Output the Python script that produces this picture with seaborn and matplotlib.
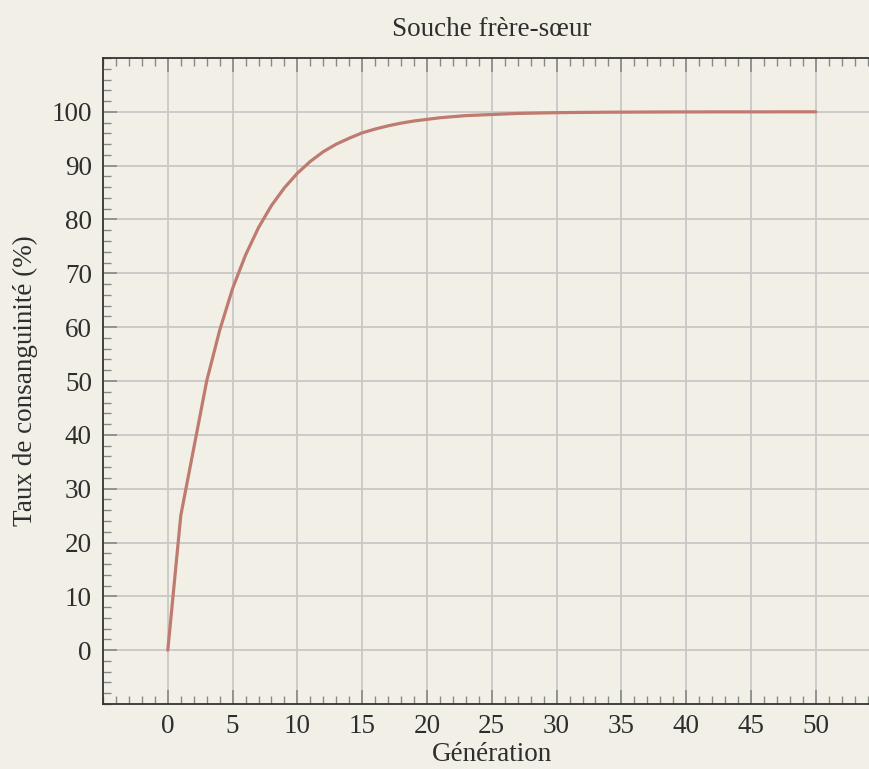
import numpy as np
import pandas as pd
import matplotlib; matplotlib.use("Agg")
import matplotlib.pyplot as plt
import seaborn as sns
from matplotlib.ticker import MultipleLocator

sns.set_theme(style="white")
plt.rcParams["font.family"] = ["Liberation Serif", "DejaVu Serif"]

# Taux de consanguinité (%) par génération, souche frère-sœur
generation = list(range(0, 51))
taux = [0.0, 25.0, 37.5, 50.0, 59.4, 67.2, 73.4, 78.5, 82.6, 85.9,
        88.6, 90.8, 92.6, 94.0, 95.1, 96.1, 96.8, 97.4, 97.9, 98.3,
        98.6, 98.9, 99.1, 99.3, 99.4, 99.5, 99.6, 99.7, 99.75, 99.8,
        99.84, 99.87, 99.89, 99.91, 99.93, 99.94, 99.95, 99.96, 99.97, 99.98,
        99.98, 99.98, 99.99, 99.99, 99.99, 99.99, 99.99, 100.0, 100.0, 100.0,
        100.0]

BG = "#F2F0E6"
LINE = "#BF7B6F"
TXT = "#2E2E2E"
FS = 19.5

df = pd.DataFrame({"Génération": generation, "Taux": taux})

fig = plt.figure(figsize=(8.7, 7.69), dpi=100)
fig.patch.set_facecolor(BG)
ax = fig.add_axes([0.1184, 0.0845, 0.8938, 0.8401])
ax.set_facecolor(BG)

sns.lineplot(data=df, x="Génération", y="Taux", color=LINE, linewidth=2.3,
             ax=ax, zorder=3)

ax.set_xlim(-5, 55)
ax.set_ylim(-10, 110)
ax.xaxis.set_major_locator(MultipleLocator(5))
ax.xaxis.set_minor_locator(MultipleLocator(1))
ax.yaxis.set_major_locator(MultipleLocator(10))
ax.yaxis.set_minor_locator(MultipleLocator(2))
ax.set_xticks(range(0, 51, 5))
ax.set_yticks(range(0, 101, 10))

ax.grid(True, which="major", color="#C8C8C6", linewidth=1.3, zorder=0)
ax.tick_params(axis="x", which="major", direction="in", top=True, bottom=True,
               length=10, width=1.2, color="#888888", labelsize=FS, labelcolor=TXT, pad=7)
ax.tick_params(axis="x", which="minor", direction="in", top=True, bottom=True,
               length=6, width=1.0, color="#888888")
ax.tick_params(axis="y", which="major", direction="in", left=True, right=False,
               length=10, width=1.2, color="#888888", labelsize=FS, labelcolor=TXT, pad=8)
ax.tick_params(axis="y", which="minor", direction="in", left=True, right=False,
               length=6, width=1.0, color="#888888")

for side in ["left", "top", "bottom", "right"]:
    ax.spines[side].set_color("#333333")
    ax.spines[side].set_linewidth(1.3)
    ax.spines[side].set_visible(True)

ax.set_xlabel("Génération", fontsize=FS, color=TXT, labelpad=2)
ax.set_ylabel("Taux de consanguinité (%)", fontsize=FS, color=TXT, labelpad=10)
ax.set_title("Souche frère-sœur", fontsize=FS, color=TXT, pad=16)

plt.savefig("out.png", dpi=100, facecolor=BG)
plt.close()
